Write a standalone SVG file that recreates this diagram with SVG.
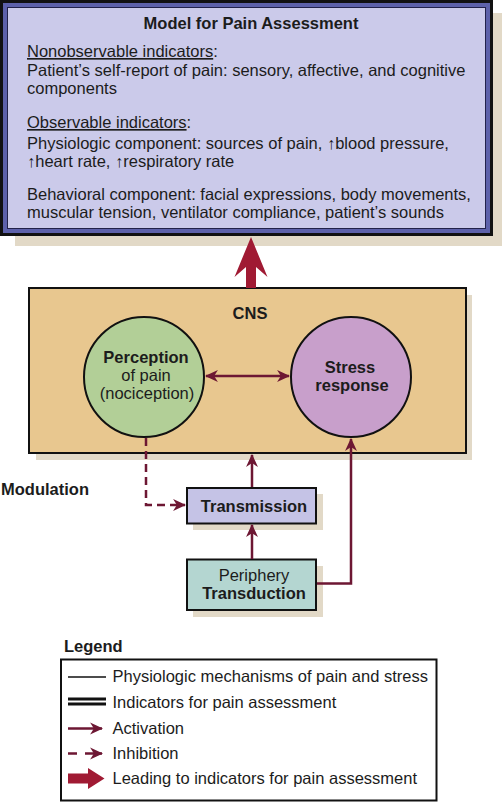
<svg xmlns="http://www.w3.org/2000/svg" width="502" height="802" viewBox="0 0 502 802">
<defs>
<style>
text{font-family:"Liberation Sans",Arial,Helvetica,sans-serif;font-size:16.5px;fill:#1c1c1c}
.b{font-weight:bold}
.c{text-anchor:middle}
.u{text-decoration:underline}
.shadow{fill:#e2d9c7}
.box{stroke:#111;stroke-width:2}
.act{fill:none;stroke:#6d1733;stroke-width:2.5}
.dash{stroke-dasharray:8 5}
</style>
<marker id="ah" viewBox="0 0 12 12" refX="11" refY="6" markerWidth="13" markerHeight="13" markerUnits="userSpaceOnUse" orient="auto-start-reverse">
<path d="M0,0.5 L12,6 L0,11.5 L3.5,6 z" fill="#6d1733"/>
</marker>
</defs>

<g id="model-box">
<rect class="shadow" x="15" y="13" width="487" height="233"/>
<rect x="0" y="0" width="493" height="236" fill="#111"/>
<rect x="3" y="3" width="487" height="230" fill="#5d61aa"/>
<rect x="7.5" y="7.5" width="478" height="221" fill="#cbcaea" stroke="#22224a" stroke-width="1"/>
<text class="b c" x="251" y="29">Model for Pain Assessment</text>
<text x="27" y="57"><tspan class="u">Nonobservable indicators</tspan>:</text>
<text x="27" y="76">Patient’s self-report of pain: sensory, affective, and cognitive</text>
<text x="27" y="94">components</text>
<text x="27" y="128"><tspan class="u">Observable indicators</tspan>:</text>
<text x="27" y="149">Physiologic component: sources of pain, ↑blood pressure,</text>
<text x="27" y="167">↑heart rate, ↑respiratory rate</text>
<text x="27" y="200">Behavioral component: facial expressions, body movements,</text>
<text x="27" y="218">muscular tension, ventilator compliance, patient’s sounds</text>
</g>

<g id="cns">
<rect class="shadow" x="36" y="295" width="436" height="165"/>
<rect class="box" x="29" y="288" width="437" height="165" fill="#e8c78f"/>
<text class="b c" x="250" y="319">CNS</text>
</g>

<g id="perception">
<circle class="box" cx="144" cy="377" r="60" fill="#b2cf97"/>
<text class="b c" x="146" y="363">Perception</text>
<text class="c" x="146" y="380.5">of pain</text>
<text class="c" x="147" y="398.5">(nociception)</text>
</g>

<g id="stress">
<circle class="box" cx="351" cy="377" r="60" fill="#c89fcb"/>
<text class="b c" x="350" y="373">Stress</text>
<text class="b c" x="352" y="391">response</text>
</g>

<g id="modulation">
<text class="b" x="1" y="495">Modulation</text>
</g>

<g id="transmission">
<rect class="shadow" x="193" y="494" width="130" height="36"/>
<rect class="box" x="187" y="488" width="129" height="35.5" fill="#c5c3e6"/>
<text class="b c" x="254" y="512">Transmission</text>
</g>

<g id="periphery">
<rect class="shadow" x="193" y="566" width="130" height="51"/>
<rect class="box" x="187" y="559.5" width="129" height="50.5" fill="#b4d6d1"/>
<text class="c" x="254" y="580.5">Periphery</text>
<text class="b c" x="254" y="598.5">Transduction</text>
</g>

<g id="connectors">
<polygon points="251,237 267.5,277 256,267 256,288 246,288 246,267 234.5,277" fill="#a01a33"/>
<line class="act" x1="206" y1="376" x2="289" y2="376" marker-start="url(#ah)" marker-end="url(#ah)"/>
<line class="act" x1="252" y1="487" x2="252" y2="455" marker-end="url(#ah)"/>
<line class="act" x1="252" y1="559" x2="252" y2="525" marker-end="url(#ah)"/>
<path class="act" d="M317,583.5 H351 V439" marker-end="url(#ah)"/>
<path class="act dash" d="M146,438 V505 H185" marker-end="url(#ah)"/>
</g>

<g id="legend">
<text class="b" x="64" y="652">Legend</text>
<rect x="61" y="659.5" width="375.5" height="141" fill="#fff" stroke="#111" stroke-width="2"/>
<line x1="68" y1="677" x2="106" y2="677" stroke="#111" stroke-width="1.5"/>
<text x="112.5" y="682">Physiologic mechanisms of pain and stress</text>
<line x1="68" y1="699" x2="106" y2="699" stroke="#111" stroke-width="3"/>
<line x1="68" y1="704" x2="106" y2="704" stroke="#111" stroke-width="3"/>
<text x="112.5" y="707.5">Indicators for pain assessment</text>
<line class="act" x1="68" y1="728.5" x2="102" y2="728.5" marker-end="url(#ah)"/>
<text x="112.5" y="733.5">Activation</text>
<path class="act" d="M68,753.5 H102" style="stroke-dasharray:9 8 40" marker-end="url(#ah)"/>
<text x="112.5" y="758.5">Inhibition</text>
<polygon points="68,773.5 88,773.5 88,768 104.5,778.5 88,789 88,783.5 68,783.5" fill="#a01a33"/>
<text x="112.5" y="783.5">Leading to indicators for pain assessment</text>
</g>
</svg>
